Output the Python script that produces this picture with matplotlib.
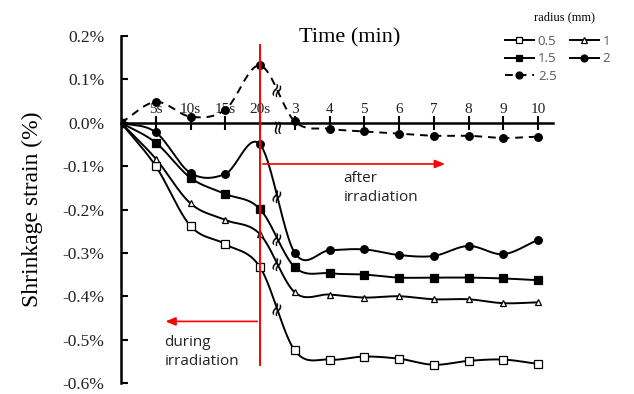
import numpy as np
import matplotlib
matplotlib.use("Agg")
import matplotlib.pyplot as plt
from matplotlib.lines import Line2D

tick_labels = ["5s", "10s", "15s", "20s", "3", "4", "5", "6", "7", "8", "9", "10"]
ytick_vals = [-0.6, -0.5, -0.4, -0.3, -0.2, -0.1, 0.0, 0.1, 0.2]

r05 = [0, -0.100, -0.238, -0.280, -0.333, -0.525, -0.546, -0.539, -0.544, -0.558, -0.549, -0.546, -0.556]
r1 = [0, -0.083, -0.186, -0.224, -0.257, -0.391, -0.396, -0.403, -0.400, -0.407, -0.407, -0.416, -0.414]
r15 = [0, -0.046, -0.127, -0.164, -0.199, -0.333, -0.347, -0.350, -0.357, -0.357, -0.357, -0.359, -0.363]
r2 = [0, -0.022, -0.116, -0.118, -0.050, -0.300, -0.294, -0.292, -0.305, -0.307, -0.284, -0.303, -0.270]
r25 = [0, 0.048, 0.014, 0.030, 0.132, 0.003, -0.014, -0.020, -0.025, -0.030, -0.030, -0.035, -0.032]


def smooth(x, y, n=24):
    # catmull-rom, like excel's smoothed line
    x = np.asarray(x, float)
    y = np.asarray(y, float)
    px = np.concatenate([[2 * x[0] - x[1]], x, [2 * x[-1] - x[-2]]])
    py = np.concatenate([[2 * y[0] - y[1]], y, [2 * y[-1] - y[-2]]])
    xs, ys = [], []
    t = np.linspace(0, 1, n)
    for i in range(1, len(px) - 2):
        for p, out in ((px, xs), (py, ys)):
            p0, p1, p2, p3 = p[i - 1], p[i], p[i + 1], p[i + 2]
            out.extend(0.5 * (2 * p1 + (-p0 + p2) * t
                              + (2 * p0 - 5 * p1 + 4 * p2 - p3) * t ** 2
                              + (-p0 + 3 * p1 - 3 * p2 + p3) * t ** 3))
    return np.array(xs), np.array(ys)


fig = plt.figure(figsize=(6.34, 3.94), dpi=100)
ax = fig.add_axes([121 / 634, 1 - 383 / 394, (553 - 121) / 634, (383 - 36) / 394])

x = np.arange(13)
series = [
    (r05, "s", "white", "-", "0.5"),
    (r1, "^", "white", "-", "1"),
    (r15, "s", "black", "-", "1.5"),
    (r2, "o", "black", "-", "2"),
    (r25, "o", "black", (0, (4, 3)), "2.5"),
]
handles = {}
for vals, mk, fc, ls, lab in series:
    sx, sy = smooth(x, vals)
    ax.plot(sx, sy, color="black", lw=1.4, ls=ls, zorder=3)
    ax.plot(x, vals, ls="none", marker=mk, ms=5.5 if mk != "^" else 5,
            mfc=fc, mec="black", mew=0.9, zorder=4)
    handles[lab] = Line2D([], [], color="black", lw=1.4, ls=ls, marker=mk,
                          ms=5, mfc=fc, mec="black", mew=0.9)
    # break mark between 20s and 3
    k = np.argmin(np.abs(sx - 4.5))
    ax.text(4.5, sy[k], "\u2248", rotation=65, ha="center", va="center",
            fontsize=14, family="DejaVu Sans", zorder=5)

ax.text(4.5, -0.004, "\u2248", rotation=90, ha="center", va="center",
        fontsize=14, family="DejaVu Sans", zorder=5)

ax.set_xlim(0, 12.43)
ax.set_ylim(-0.6, 0.2)

ax.spines["right"].set_visible(False)
ax.spines["bottom"].set_visible(False)
ax.spines["top"].set_position(("data", 0))
ax.spines["top"].set_linewidth(1.8)
ax.spines["left"].set_linewidth(1.8)
ax.xaxis.set_ticks_position("top")
ax.set_xticks(x[1:])
ax.set_xticklabels(tick_labels, family="Liberation Serif", fontsize=11, color="#222222")
ax.tick_params(axis="x", direction="inout", length=10, width=1.5, pad=0)
ax.set_yticks(ytick_vals)
ax.set_yticklabels([("%.1f%%" % v).replace("\u2212", "-") for v in ytick_vals],
                   family="Liberation Serif", fontsize=12.5, color="#222222")
ax.tick_params(axis="y", direction="in", length=5, width=1.5, pad=12)
ax.set_ylabel("Shrinkage strain (%)", family="Liberation Serif", fontsize=17,
              labelpad=14)

# irradiation marker
ax.plot([4, 4], [-0.559, 0.18], color="red", lw=1.4, zorder=6)
ax.annotate("", xy=(9.4, -0.095), xytext=(4, -0.095),
            arrowprops=dict(arrowstyle="-|>,head_length=0.6,head_width=0.25",
                            color="red", lw=1.2), zorder=6)
ax.annotate("", xy=(1.2, -0.458), xytext=(4, -0.458),
            arrowprops=dict(arrowstyle="-|>,head_length=0.6,head_width=0.25",
                            color="red", lw=1.2), zorder=6)
ax.text(6.4, -0.112, "after\nirradiation", family="Open Sans", fontsize=11,
        color="#222222", va="top", linespacing=1.3)
ax.text(1.25, -0.49, "during\nirradiation", family="Open Sans", fontsize=11,
        color="#222222", va="top", linespacing=1.3)

fig.text(350 / 634, 1 - 38 / 394, "Time (min)", family="Liberation Serif",
         fontsize=16, ha="center", va="center")

order = ["0.5", "1.5", "2.5", "1", "2"]
fig.text(564 / 634, 1 - 17 / 394, "radius (mm)", family="Liberation Serif",
         fontsize=9, ha="center", va="center")
leg = fig.legend([handles[k] for k in order], order, ncol=2,
                 loc="upper left", bbox_to_anchor=(493 / 634, 1 - 23 / 394),
                 frameon=False, handlelength=2.2,
                 handletextpad=0.3, columnspacing=1.0, labelspacing=0.35,
                 prop={"family": "Open Sans", "size": 9.5})
for t in leg.get_texts():
    t.set_color("#595959")

fig.savefig("out.png", dpi=100)
